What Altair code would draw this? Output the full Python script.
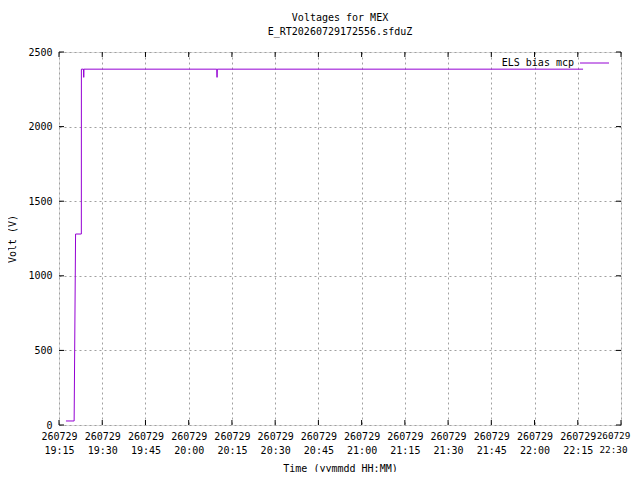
import altair as alt
import pandas as pd

# --- data ---
times = [
    "2026-07-29T19:17:25Z", "2026-07-29T19:20:15Z", "2026-07-29T19:20:45Z",
    "2026-07-29T19:22:45Z", "2026-07-29T19:22:46Z", "2026-07-29T19:23:30Z",
    "2026-07-29T19:23:35Z", "2026-07-29T19:23:40Z", "2026-07-29T20:09:45Z",
    "2026-07-29T20:09:50Z", "2026-07-29T20:09:55Z", "2026-07-29T22:16:50Z",
]
volts = [27, 27, 1280, 1280, 2385, 2385, 2330, 2385, 2385, 2330, 2385, 2385]

x_ticks = [
    "2026-07-29T19:15:00Z", "2026-07-29T19:30:00Z", "2026-07-29T19:45:00Z",
    "2026-07-29T20:00:00Z", "2026-07-29T20:15:00Z", "2026-07-29T20:30:00Z",
    "2026-07-29T20:45:00Z", "2026-07-29T21:00:00Z", "2026-07-29T21:15:00Z",
    "2026-07-29T21:30:00Z", "2026-07-29T21:45:00Z", "2026-07-29T22:00:00Z",
    "2026-07-29T22:15:00Z", "2026-07-29T22:30:00Z",
]
y_ticks = [0, 500, 1000, 1500, 2000, 2500]

series_name = "ELS bias mcp"
title_lines = ["Voltages for MEX", "E_RT20260729172556.sfduZ"]

W, H = 562, 373
FONT = "DejaVu Sans Mono"
PURPLE = "#9400d3"

df = pd.DataFrame({"t": times, "v": volts})
xt = pd.DataFrame({"t": x_ticks})
yt = pd.DataFrame({"v": y_ticks})

xdom = [alt.DateTime(year=2026, month=7, date=29, hours=19, minutes=15, utc=True),
        alt.DateTime(year=2026, month=7, date=29, hours=22, minutes=30, utc=True)]
xscale = alt.Scale(type="utc", domain=xdom)
yscale = alt.Scale(domain=[0, 2500])

LAST = "datum.value >= utc(2026, 6, 29, 22, 29)"
xaxis = alt.Axis(
    values=[alt.DateTime(year=2026, month=7, date=29, hours=19 + (15 + 15 * i) // 60,
                         minutes=(15 + 15 * i) % 60, utc=True) for i in range(14)],
    labelExpr="[utcFormat(datum.value, '%y%m%d'), utcFormat(datum.value, '%H:%M')]",
    labelFont=FONT, labelColor="black", labelLineHeight=14,
    labelFontSize={"condition": {"test": LAST, "value": 9.3}, "value": 10},
    labelPadding=6, labelBaseline="top", labelFlush=False, labelOverlap=False,
    labelOffset={"condition": {"test": LAST, "value": -8}, "value": 0},
    ticks=False, domain=False,
    grid=True, gridColor="#a0a0a0", gridDash=[2, 3], gridWidth=1,
    title="Time (yymmdd HH:MM)", titleFont=FONT, titleFontSize=10,
    titleFontWeight="normal", titleColor="black",
    titleY=46, titleX=W / 2, titleBaseline="alphabetic", titleAlign="center",
)
yaxis = alt.Axis(
    values=y_ticks, format="d", labelFont=FONT, labelFontSize=10, labelColor="black",
    labelPadding=7, ticks=False, domain=False,
    grid=True, gridColor="#a0a0a0", gridDash=[2, 3], gridWidth=1,
    title="Volt (V)", titleFont=FONT, titleFontSize=10, titleFontWeight="normal",
    titleColor="black", titleAngle=270, titleX=-44, titleY=H / 2,
    titleBaseline="alphabetic", titleAlign="center",
)

line = alt.Chart(df).mark_line(color=PURPLE, strokeWidth=1, interpolate="linear").encode(
    x=alt.X("t:T", scale=xscale, axis=xaxis),
    y=alt.Y("v:Q", scale=yscale, axis=yaxis),
)

tick_style = dict(color="black", thickness=1, size=5, opacity=1)
xt_bottom = alt.Chart(xt).mark_tick(orient="vertical", **tick_style).encode(
    x=alt.X("t:T", scale=xscale), y=alt.value(H - 2.5))
xt_top = alt.Chart(xt).mark_tick(orient="vertical", **tick_style).encode(
    x=alt.X("t:T", scale=xscale), y=alt.value(2.5))
yt_left = alt.Chart(yt).mark_tick(orient="horizontal", **tick_style).encode(
    y=alt.Y("v:Q", scale=yscale), x=alt.value(2.5))
yt_right = alt.Chart(yt).mark_tick(orient="horizontal", **tick_style).encode(
    y=alt.Y("v:Q", scale=yscale), x=alt.value(W - 2.5))

leg_df = pd.DataFrame({"name": [series_name]})
leg_line = alt.Chart(leg_df).mark_rule(color=PURPLE, strokeWidth=1).encode(
    x=alt.value(521), x2=alt.value(550), y=alt.value(11))
leg_text = alt.Chart(leg_df).mark_text(
    font=FONT, fontSize=10, align="right", baseline="middle", color="black"
).encode(text="name:N", x=alt.value(515), y=alt.value(10.5))

chart = alt.layer(line, xt_bottom, xt_top, yt_left, yt_right, leg_line, leg_text).properties(
    width=W, height=H,
    title=alt.Title(title_lines, font=FONT, fontSize=10, fontWeight="normal",
                    color="black", lineHeight=14, offset=10, anchor="middle"),
    autosize=alt.AutoSizeParams(type="none"),
    padding={"left": 51, "top": 44, "right": 11, "bottom": 47},
).configure_view(stroke="black", strokeWidth=1).configure(background="white")

chart.save("out.html", embed_options={"renderer": "svg", "actions": False})
